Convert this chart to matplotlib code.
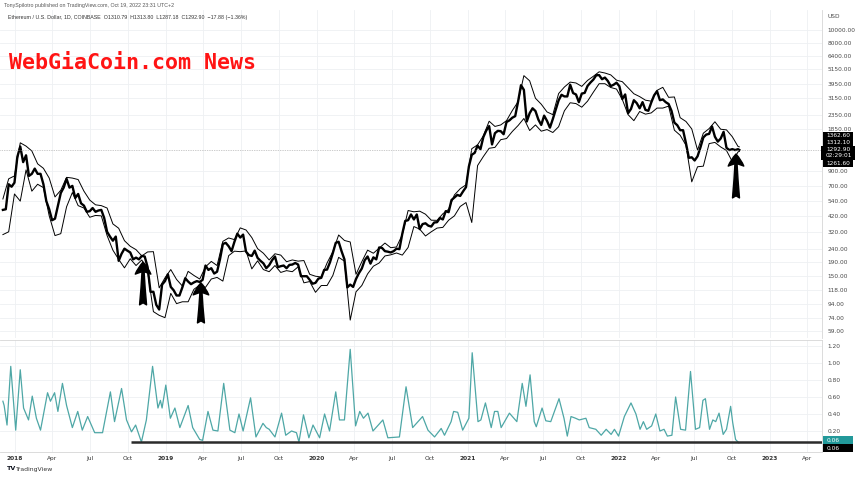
import pandas as pd
import matplotlib.pyplot as plt
from matplotlib.patches import Rectangle
from matplotlib.ticker import FixedLocator, NullLocator

# -------------------------------------------------------
# 1. Data (ETH/USD, Coinbase, log scale)
# -------------------------------------------------------

# weekly closes, Sundays from 2017-12-03 to 2022-10-16
price_start = "2017-12-03"
price_close = [
    # 2017
    465, 470, 720, 690, 740,
    # 2018
    1150, 1370, 1050, 1180, 830, 860, 940, 860, 860, 720, 540, 470,
    390, 400, 500, 620, 680, 790, 680, 700, 570, 610, 520, 500, 450,
    455, 480, 450, 460, 465, 405, 320, 295, 275, 295, 195, 220, 240, 232,
    225, 200, 206, 200, 212, 210, 175, 115, 115, 92, 85, 130, 138,
    # 2019
    155, 125, 118, 108, 108, 124, 145, 137, 131, 135, 138, 136, 141,
    180, 167, 172, 157, 162, 200, 260, 265, 250, 230, 270, 310, 290,
    305, 228, 215, 212, 232, 205, 195, 187, 172, 181, 197, 210, 175,
    178, 180, 172, 182, 183, 188, 183, 150, 150, 150, 141, 132, 134,
    # 2020
    144, 146, 167, 168, 190, 223, 265, 270, 230, 200, 124, 130, 125,
    143, 158, 171, 197, 210, 186, 207, 200, 245, 243, 230, 228, 225,
    230, 240, 238, 310, 385, 390, 430, 395, 430, 335, 365, 370, 355,
    350, 375, 377, 405, 395, 455, 447, 550, 575, 600, 590, 638, 685,
    # 2021
    975, 1190, 1230, 1390, 1310, 1610, 1800, 1940, 1420, 1720, 1790, 1780, 1690,
    2080, 2140, 2240, 2300, 2950, 3900, 3600, 2100, 2420, 2630, 2510, 2170, 1980,
    2320, 2120, 1890, 2190, 2560, 3010, 3310, 3220, 3220, 3930, 3410, 3330, 2920,
    3380, 3420, 3850, 4080, 4290, 4620, 4630, 4320, 4440, 4190, 3840, 3930, 4070,
    # 2022
    3830, 3080, 3330, 2420, 2600, 3020, 2870, 2630, 2920, 2560, 2520, 2900, 3280,
    3520, 3020, 3060, 2920, 2830, 2520, 2060, 1970, 1810, 1810, 1450, 1130, 1140,
    1080, 1160, 1350, 1600, 1680, 1700, 1930, 1620, 1490, 1570, 1760, 1340, 1290,
    1310, 1290, 1310,
]
last_date = "2022-10-19"
last_close = 1292.90

# Bollinger bands, every two weeks from 2017-12-03, last value on 2022-10-19
band_upper = [
    560, 790, 830, 1460, 1380, 1270, 1020, 945, 800, 580, 650, 810, 800,
    780, 640, 550, 507, 500, 480, 366, 340, 275, 250, 236, 212, 227,
    228, 123, 146, 168, 142, 127, 163, 152, 143, 176, 193, 180, 272,
    288, 280, 342, 330, 290, 240, 222, 198, 220, 215, 192, 198, 194,
    196, 155, 150, 148, 188, 228, 303, 276, 269, 155, 192, 234, 222,
    242, 264, 244, 247, 305, 460, 450, 455, 432, 390, 389, 435, 470,
    600, 667, 713, 1320, 1410, 1645, 2110, 1930, 1980, 2130, 2530, 2940, 4590,
    4200, 3120, 2820, 2470, 2360, 3380, 3780, 4110, 4050, 3820, 4230, 4540, 4900,
    4800, 4650, 4250, 4140, 3740, 3370, 3210, 3020, 2970, 3570, 3760, 3170, 3190,
    2240, 2100, 1850, 1290, 1720, 1860, 2090, 1840, 1820, 1620, 1370, 1362.6,
]
band_lower = [
    305, 320, 610, 540, 920, 640, 720, 680, 420, 300, 310, 490, 625,
    500, 480, 410, 423, 420, 300, 234, 200, 173, 202, 180, 198, 163,
    82, 77, 74, 112, 94, 97, 97, 120, 129, 124, 143, 147, 138,
    213, 230, 228, 231, 170, 195, 168, 162, 180, 160, 165, 162, 176,
    134, 137, 114, 128, 128, 152, 207, 194, 71, 115, 128, 156, 178,
    188, 212, 216, 223, 215, 245, 350, 335, 298, 320, 341, 345, 390,
    420, 493, 527, 375, 990, 1155, 1330, 1350, 1540, 1570, 1770, 1960, 2210,
    1800, 1980, 1780, 1830, 1740, 1920, 2520, 2890, 2850, 2680, 2970, 3460, 4000,
    4000, 3750, 3650, 3060, 2360, 2130, 2490, 2380, 2430, 2640, 2640, 2730, 1810,
    1660, 1400, 750, 970, 980, 1440, 1470, 1360, 1280, 1060, 1250, 1261.6,
]

# Bollinger Band Width, lower pane
bbw_dates = [
    "2017-12-03", "2017-12-06", "2017-12-13", "2017-12-22", "2018-01-03", "2018-01-14",
    "2018-01-22", "2018-02-03", "2018-02-12", "2018-02-22", "2018-03-04", "2018-03-21",
    "2018-03-28", "2018-04-07", "2018-04-15", "2018-04-26", "2018-05-06", "2018-05-20",
    "2018-06-02", "2018-06-13", "2018-06-26", "2018-07-13", "2018-08-01", "2018-08-20",
    "2018-08-30", "2018-09-16", "2018-09-28", "2018-10-10", "2018-10-20", "2018-11-03",
    "2018-11-15", "2018-11-30", "2018-12-13", "2018-12-19", "2018-12-23", "2019-01-01",
    "2019-01-12", "2019-01-23", "2019-02-04", "2019-02-24", "2019-03-07", "2019-03-24",
    "2019-03-31", "2019-04-13", "2019-04-25", "2019-05-07", "2019-05-21", "2019-06-05",
    "2019-06-17", "2019-06-27", "2019-07-07", "2019-07-25", "2019-08-07", "2019-08-24",
    "2019-09-01", "2019-09-08", "2019-09-22", "2019-10-08", "2019-10-18", "2019-11-01",
    "2019-11-13", "2019-11-19", "2019-11-30", "2019-12-13", "2019-12-23", "2020-01-08",
    "2020-01-20", "2020-02-01", "2020-02-16", "2020-02-25", "2020-03-08", "2020-03-22",
    "2020-04-04", "2020-04-14", "2020-04-23", "2020-05-04", "2020-05-16", "2020-06-09",
    "2020-06-21", "2020-07-19", "2020-08-04", "2020-08-20", "2020-09-13", "2020-09-26",
    "2020-10-12", "2020-10-28", "2020-11-05", "2020-11-21", "2020-11-27", "2020-12-07",
    "2020-12-19", "2021-01-03", "2021-01-11", "2021-01-25", "2021-02-01", "2021-02-12",
    "2021-02-26", "2021-03-06", "2021-03-14", "2021-03-22", "2021-04-11", "2021-04-29",
    "2021-05-12", "2021-05-21", "2021-05-31", "2021-06-10", "2021-06-15", "2021-06-29",
    "2021-07-08", "2021-07-20", "2021-08-09", "2021-08-21", "2021-08-29", "2021-09-07",
    "2021-09-18", "2021-09-27", "2021-10-13", "2021-10-21", "2021-11-06", "2021-11-19",
    "2021-12-01", "2021-12-13", "2021-12-21", "2021-12-31", "2022-01-14", "2022-01-30",
    "2022-02-11", "2022-02-21", "2022-03-01", "2022-03-09", "2022-03-21", "2022-03-31",
    "2022-04-10", "2022-04-20", "2022-04-28", "2022-05-09", "2022-05-18", "2022-05-30",
    "2022-06-11", "2022-06-23", "2022-07-05", "2022-07-15", "2022-07-23", "2022-07-29",
    "2022-08-08", "2022-08-16", "2022-08-23", "2022-08-31", "2022-09-10", "2022-09-18",
    "2022-09-28", "2022-10-03", "2022-10-10", "2022-10-18",
]
bbw_values = [
    0.55, 0.50, 0.27, 0.96, 0.21, 0.92,
    0.47, 0.33, 0.61, 0.35, 0.21, 0.65,
    0.55, 0.65, 0.43, 0.76, 0.50, 0.24,
    0.43, 0.21, 0.37, 0.18, 0.18, 0.66,
    0.31, 0.70, 0.33, 0.19, 0.27, 0.07,
    0.33, 0.96, 0.47, 0.56, 0.47, 0.74,
    0.35, 0.47, 0.24, 0.50, 0.24, 0.10,
    0.09, 0.43, 0.21, 0.20, 0.76, 0.21,
    0.18, 0.40, 0.20, 0.59, 0.13, 0.29,
    0.24, 0.22, 0.13, 0.41, 0.15, 0.20,
    0.18, 0.07, 0.39, 0.12, 0.27, 0.12,
    0.40, 0.20, 0.66, 0.33, 0.33, 1.16,
    0.26, 0.43, 0.35, 0.41, 0.20, 0.33,
    0.12, 0.13, 0.72, 0.24, 0.37, 0.21,
    0.13, 0.23, 0.15, 0.31, 0.43, 0.42,
    0.21, 0.35, 1.12, 0.31, 0.33, 0.53,
    0.24, 0.43, 0.43, 0.24, 0.41, 0.31,
    0.76, 0.49, 0.86, 0.31, 0.25, 0.47,
    0.32, 0.31, 0.58, 0.35, 0.14, 0.37,
    0.35, 0.33, 0.35, 0.24, 0.22, 0.15,
    0.22, 0.16, 0.22, 0.14, 0.37, 0.53,
    0.40, 0.22, 0.31, 0.22, 0.26, 0.40,
    0.20, 0.22, 0.14, 0.15, 0.60, 0.22,
    0.21, 0.90, 0.22, 0.24, 0.56, 0.58,
    0.22, 0.33, 0.31, 0.41, 0.16, 0.22,
    0.49, 0.30, 0.10, 0.06,
]
bbw_level = 0.065

price_ticks = [59, 74, 94, 118, 150, 190, 240, 320, 420, 540, 700, 900,
               1850, 2350, 3150, 3950, 5150, 6400, 8000, 10000]
bbw_ticks = [0.2, 0.4, 0.6, 0.8, 1.0, 1.2]

price_dates = list(pd.date_range(price_start, periods=len(price_close), freq="7D"))
price_dates.append(pd.Timestamp(last_date))
price_all = price_close + [last_close]

band_dates = list(pd.date_range(price_start, periods=len(band_upper) - 1, freq="14D"))
band_dates.append(pd.Timestamp(last_date))

bbw_x = pd.to_datetime(bbw_dates)

# -------------------------------------------------------
# 2. Figure and panes
# -------------------------------------------------------

W, H = 860, 479
fig = plt.figure(figsize=(W / 100, H / 100), dpi=100)
fig.patch.set_facecolor("white")

ax = fig.add_axes([0, 1 - 338 / H, 822 / W, 328 / H])
ax2 = fig.add_axes([0, 1 - 452 / H, 822 / W, 112 / H], sharex=ax)

x_left = pd.Timestamp("2017-11-26")
x_right = pd.Timestamp("2023-05-07")

grid_col = "#eef0f3"
label_col = "#4a4a4a"

# price pane
ax.plot(band_dates, band_upper, color="black", lw=0.7)
ax.plot(band_dates, band_lower, color="black", lw=0.7)
ax.plot(price_dates, price_all, color="black", lw=1.7)
ax.axhline(last_close, color="#9a9a9a", lw=0.5, ls=(0, (1, 1.5)))

ax.set_yscale("log")
ax.set_ylim(52.3, 14060)
ax.set_xlim(x_left, x_right)
ax.yaxis.set_major_locator(FixedLocator(price_ticks))
ax.yaxis.set_minor_locator(NullLocator())
ax.set_yticklabels([f"{v:.2f}" for v in price_ticks])
ax.yaxis.tick_right()
ax.tick_params(axis="y", length=0, pad=4, labelsize=4.2, labelcolor=label_col)
ax.tick_params(axis="x", length=0, labelbottom=False)
ax.grid(color=grid_col, lw=0.6)
for name, spine in ax.spines.items():
    spine.set_visible(name == "right")
ax.spines["right"].set_color("#d6d6d6")
ax.spines["right"].set_linewidth(0.6)

# arrows
arrows = [
    ("2018-11-07", 191, 92),
    ("2019-03-27", 134, 67.6),
    ("2022-10-11", 1206, 570),
]
for day, tip, tail in arrows:
    ax.annotate("", xy=(pd.Timestamp(day), tip), xytext=(pd.Timestamp(day), tail),
                arrowprops=dict(arrowstyle="fancy,head_length=0.62,head_width=0.8,tail_width=0.36",
                                mutation_scale=14, color="black", shrinkA=0, shrinkB=0))

# BBW pane
ax2.plot(bbw_x, bbw_values, color="#4ea7a6", lw=0.9)
ax2.hlines(bbw_level, pd.Timestamp("2018-10-10"), x_right, color="#2b2b2b", lw=1.8)
ax2.set_ylim(-0.047, 1.27)
ax2.yaxis.set_major_locator(FixedLocator(bbw_ticks))
ax2.set_yticklabels([f"{v:.2f}" for v in bbw_ticks])
ax2.yaxis.tick_right()
ax2.tick_params(axis="y", length=0, pad=4, labelsize=4.2, labelcolor=label_col)
ax2.grid(color=grid_col, lw=0.6)
for name, spine in ax2.spines.items():
    spine.set_visible(name in ("right", "top", "bottom"))
    spine.set_color("#d6d6d6")
    spine.set_linewidth(0.6)

# time axis
quarters = pd.date_range("2018-01-01", "2023-04-01", freq="QS")
ax2.set_xticks(quarters)
ax2.set_xticklabels([str(d.year) if d.month == 1 else d.strftime("%b") for d in quarters])
ax2.tick_params(axis="x", length=0, pad=3, labelsize=4.2, labelcolor="#333333")
for lab, d in zip(ax2.get_xticklabels(), quarters):
    if d.month == 1:
        lab.set_fontweight("bold")

# -------------------------------------------------------
# 3. Right-hand labels and texts
# -------------------------------------------------------

def fx(px):
    return px / W


def fy(py):
    return 1 - py / H


fig.text(fx(827), fy(16), "USD", fontsize=4.2, color=label_col, va="center")

fig.add_artist(Rectangle((fx(823), fy(167)), 30 / W, 35 / H, transform=fig.transFigure,
                         facecolor="black", edgecolor="none"))
fig.add_artist(Rectangle((fx(821), fy(160)), 34 / W, 14 / H, transform=fig.transFigure,
                         facecolor="black", edgecolor="none"))
box_labels = [("1362.60", 135.7), ("1312.10", 142.3), ("1292.90", 149.5),
              ("02:29:01", 155.8), ("1261.60", 163.3)]
for txt, py in box_labels:
    fig.text(fx(826), fy(py), txt, fontsize=4.2, color="white", va="center")

fig.add_artist(Rectangle((fx(823), fy(444)), 30 / W, 8 / H, transform=fig.transFigure,
                         facecolor="#22999a", edgecolor="none"))
fig.add_artist(Rectangle((fx(823), fy(452)), 30 / W, 8 / H, transform=fig.transFigure,
                         facecolor="black", edgecolor="none"))
fig.text(fx(827), fy(440), "0.06", fontsize=4.2, color="white", va="center")
fig.text(fx(827), fy(448), "0.06", fontsize=4.2, color="white", va="center")

fig.text(fx(4), fy(6), "TonySpilotro published on TradingView.com, Oct 19, 2022 23:31 UTC+2",
         fontsize=3.8, color="#555555", va="center", family="Liberation Sans")
fig.text(fx(8), fy(17),
         "Ethereum / U.S. Dollar, 1D, COINBASE  O1310.79  H1313.80  L1287.18  C1292.90  \u221217.88 (\u22121.36%)",
         fontsize=3.8, color="#333333", va="center", family="Liberation Sans")

fig.text(fx(9), fy(63), "WebGiaCoin.com News", fontsize=15.6, fontweight="bold",
         family="DejaVu Sans Mono", color="#ff1414", va="center")

fig.text(fx(7), fy(469), "TV", fontsize=4.6, fontweight="bold", color="#131722", va="center")
fig.text(fx(16), fy(469), "TradingView", fontsize=4.4, color="#333333", va="center")

fig.savefig("out.png", dpi=100)
